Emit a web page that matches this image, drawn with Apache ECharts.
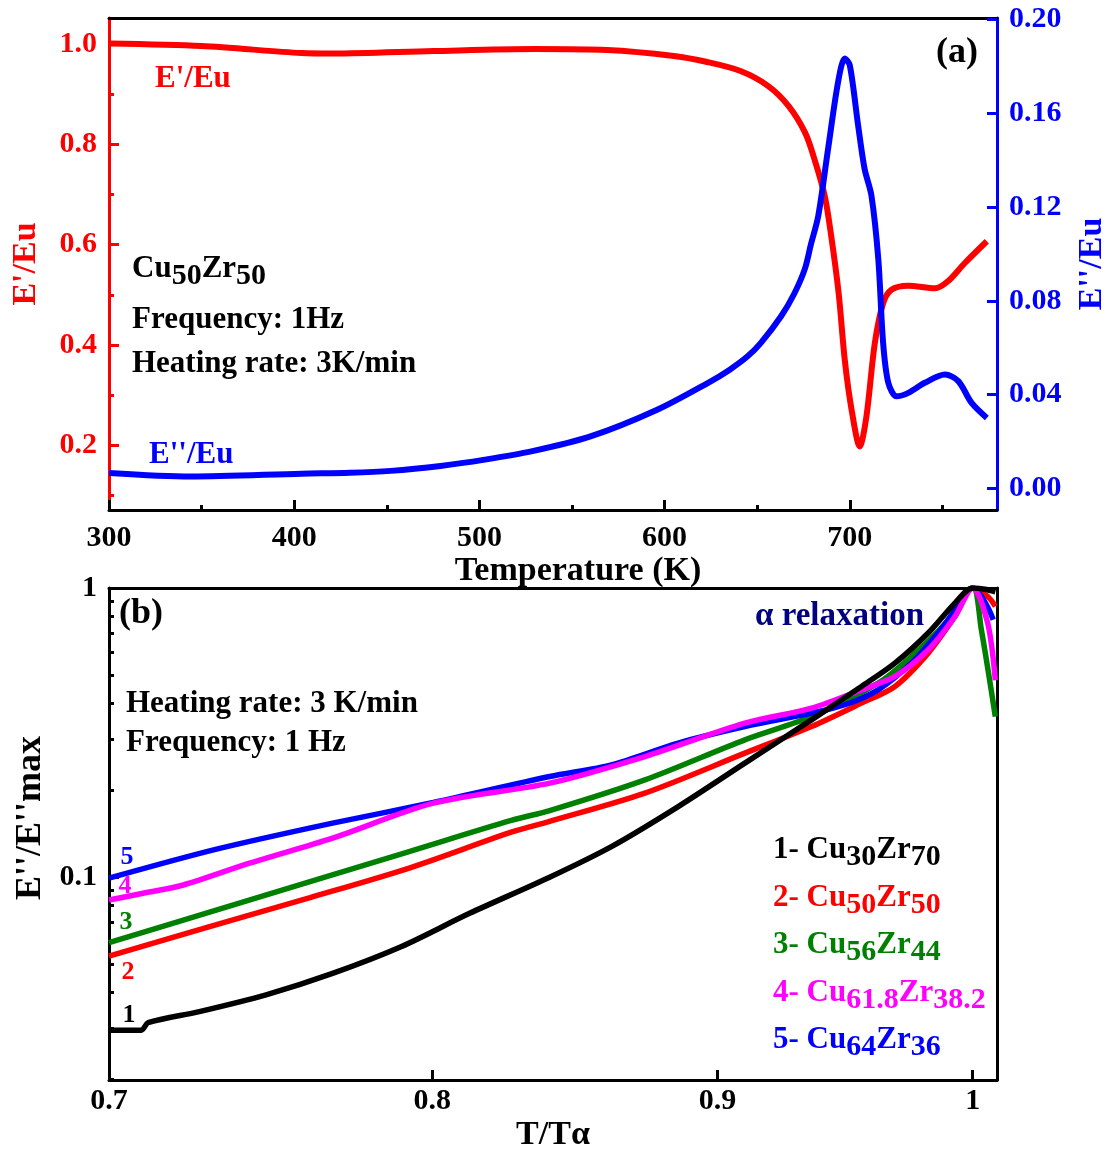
<!DOCTYPE html>
<html>
<head>
<meta charset="utf-8">
<title>CuZr DMA</title>
<script src="https://cdn.jsdelivr.net/npm/echarts@6.0.0/dist/echarts.min.js"></script>
<style>
  html, body { margin: 0; padding: 0; background: #fff; }
  #chart { width: 1110px; height: 1150px; }
</style>
</head>
<body>
<div id="chart"></div>
<script>
// ---- panel (a): Cu50Zr50, 1 Hz, 3 K/min ----
const tempStorage = [300, 350, 404, 421, 475, 530, 569, 605, 623, 641, 656, 667, 676, 681, 686.5, 690, 694, 697.3, 701, 705.4, 709, 713.5, 718, 722.5, 731.6, 746, 753, 762, 774];
const storageMod = [1.002, 0.997, 0.983, 0.982, 0.987, 0.991, 0.989, 0.977, 0.965, 0.947, 0.917, 0.877, 0.823, 0.77, 0.697, 0.617, 0.503, 0.37, 0.27, 0.197, 0.257, 0.403, 0.483, 0.51, 0.518, 0.513, 0.527, 0.563, 0.607];
const tempLoss = [300, 344, 404, 430, 452, 479, 503, 528, 560, 596, 623.5, 635, 645, 652, 663, 670, 675.7, 679, 683, 688.3, 693.7, 697.3, 700, 704.5, 708, 711.7, 715.4, 718, 720.8, 725.3, 731.6, 740.5, 751.4, 758.6, 765.8, 774];
const lossMod = [0.0065, 0.005, 0.0062, 0.0066, 0.0074, 0.0095, 0.0122, 0.0157, 0.0221, 0.0335, 0.045, 0.0505, 0.0564, 0.062, 0.0735, 0.083, 0.0935, 0.104, 0.1163, 0.1449, 0.1734, 0.1834, 0.1806, 0.1549, 0.1363, 0.1249, 0.0978, 0.0621, 0.045, 0.0392, 0.0407, 0.045, 0.0485, 0.0457, 0.0364, 0.03];

// ---- panel (b): E''/E''max vs T/Talpha ----
const ratio1 = [0.7, 0.7094, 0.7114, 0.7266, 0.7469, 0.7677, 0.7897, 0.8124, 0.8397, 0.8614, 0.8855, 0.9102, 0.9356, 0.9551, 0.9684, 0.9818, 0.9927, 1.0, 1.005, 1.0094];
const loss1 = [0.0296, 0.0296, 0.0314, 0.0343, 0.0392, 0.0465, 0.0575, 0.075, 0.1, 0.1276, 0.1755, 0.248, 0.35, 0.4566, 0.55, 0.699, 0.887, 1.0, 0.99, 0.97];
const ratio2 = [0.7, 0.7297, 0.7606, 0.7929, 0.8265, 0.8397, 0.8734, 0.9102, 0.9356, 0.9551, 0.9684, 0.9818, 0.9927, 1.0, 1.0062, 1.0094];
const loss2 = [0.0534, 0.0675, 0.085, 0.108, 0.1431, 0.156, 0.1953, 0.2685, 0.332, 0.40, 0.4566, 0.5956, 0.797, 1.0, 0.935, 0.864];
const ratio3 = [0.7, 0.7297, 0.7606, 0.7929, 0.8265, 0.8397, 0.8734, 0.9102, 0.9356, 0.9617, 0.975, 0.9889, 1.0, 1.0036, 1.0094];
const loss3 = [0.0594, 0.0758, 0.0966, 0.1232, 0.1572, 0.17, 0.2171, 0.2986, 0.3594, 0.469, 0.58, 0.757, 1.0, 0.717, 0.359];
const ratio4 = [0.7, 0.7099, 0.7218, 0.7418, 0.7677, 0.8003, 0.8397, 0.8734, 0.9102, 0.9356, 0.9551, 0.9684, 0.9818, 0.9927, 1.0, 1.0062, 1.0094];
const loss4 = [0.0834, 0.088, 0.094, 0.1118, 0.1365, 0.1803, 0.2115, 0.2614, 0.341, 0.3844, 0.4446, 0.4944, 0.6115, 0.797, 1.0, 0.757, 0.48];
const ratio5 = [0.7, 0.7318, 0.7677, 0.8003, 0.8397, 0.8614, 0.8855, 0.9102, 0.9356, 0.9486, 0.9617, 0.975, 0.9858, 0.994, 1.0, 1.0036, 1.0071, 1.0085];
const loss5 = [0.0992, 0.125, 0.1538, 0.1812, 0.2229, 0.2446, 0.2909, 0.332, 0.3694, 0.3947, 0.4446, 0.55, 0.699, 0.864, 1.0, 0.935, 0.83, 0.777];

// tick values
const tempTicks = [300, 400, 500, 600, 700];
const tempMinor = [350, 450, 550, 650, 750];
const storageTicks = [0.2, 0.4, 0.6, 0.8, 1.0];
const storageMinor = [0.1, 0.3, 0.5, 0.7, 0.9];
const lossTicks = [0, 0.04, 0.08, 0.12, 0.16, 0.2];
const ratioTicks = [0.7, 0.8, 0.9, 1];
const normTicks = [0.1, 1];
const normMinor = [0.02, 0.03, 0.04, 0.05, 0.06, 0.07, 0.08, 0.09, 0.2, 0.3, 0.4, 0.5, 0.6, 0.7, 0.8, 0.9];

const serif = '"Liberation Serif", "Times New Roman", serif';
const pairs = (xs, ys) => xs.map((x, i) => [x, ys[i]]);
const num = v => String(parseFloat((+v).toFixed(3)));

function tickFont(color) {
  return { color: color, fontSize: 30, fontWeight: 'bold', fontFamily: serif };
}
function nameFont(color, size, padding) {
  return { color: color, fontSize: size || 34, fontWeight: 'bold', fontFamily: serif, padding: padding || 0 };
}
// axis that only draws a line or extra ticks
function bareAxis(extra) {
  return Object.assign({
    axisLine: { show: false, onZero: false },
    axisTick: { show: false },
    axisLabel: { show: false },
    splitLine: { show: false }
  }, extra);
}

let myChart = echarts.init(document.getElementById('chart'));
myChart.setOption({
  animation: false,
  backgroundColor: '#fff',
  grid: [
    { left: 109, top: 18, width: 888, height: 492, outerBoundsMode: 'none' },
    { left: 109, top: 588, width: 888, height: 492, outerBoundsMode: 'none' }
  ],
  xAxis: [
    {
      type: 'value', gridIndex: 0, position: 'bottom', min: 300, max: 779.5,
      axisLine: { onZero: false, lineStyle: { color: '#000', width: 3 } },
      axisTick: { inside: true, length: 10, lineStyle: { color: '#000', width: 3 }, customValues: tempTicks },
      axisLabel: Object.assign({ customValues: tempTicks, margin: 13 }, tickFont('#000')),
      splitLine: { show: false },
      name: 'Temperature (K)', nameLocation: 'middle', nameGap: 43,
      nameTextStyle: nameFont('#000', 34, [0, 0, 0, 50])
    },
    bareAxis({
      type: 'value', gridIndex: 0, position: 'bottom', min: 300, max: 779.5,
      axisTick: { show: true, inside: true, length: 5, lineStyle: { color: '#000', width: 3 }, customValues: tempMinor }
    }),
    bareAxis({
      type: 'value', gridIndex: 0, position: 'top', min: 300, max: 779.5,
      axisLine: { show: true, onZero: false, lineStyle: { color: '#000', width: 3 } }
    }),
    {
      type: 'log', logBase: 10, gridIndex: 1, position: 'bottom', min: 0.7, max: 1.0101,
      axisLine: { onZero: false, lineStyle: { color: '#000', width: 3 } },
      axisTick: { inside: true, length: 10, lineStyle: { color: '#000', width: 3 }, customValues: [0.8, 0.9, 1] },
      axisLabel: Object.assign({ customValues: ratioTicks, margin: 6, formatter: num }, tickFont('#000')),
      splitLine: { show: false },
      name: 'T/Tα', nameLocation: 'middle', nameGap: 38, nameTextStyle: nameFont('#000')
    },
    bareAxis({
      type: 'log', logBase: 10, gridIndex: 1, position: 'top', min: 0.7, max: 1.0101,
      axisLine: { show: true, onZero: false, lineStyle: { color: '#000', width: 3 } }
    })
  ],
  yAxis: [
    {
      type: 'value', gridIndex: 0, position: 'left', min: 0.07, max: 1.053,
      axisLine: { onZero: false, lineStyle: { color: '#ff0000', width: 3 } },
      axisTick: { inside: true, length: 10, lineStyle: { color: '#ff0000', width: 3 }, customValues: storageTicks },
      axisLabel: Object.assign({ customValues: storageTicks, margin: 12, formatter: v => (+v).toFixed(1) }, tickFont('#ff0000')),
      splitLine: { show: false },
      name: "E'/Eu", nameLocation: 'middle', nameGap: 66, nameTextStyle: nameFont('#ff0000')
    },
    {
      type: 'value', gridIndex: 0, position: 'right', min: -0.0093, max: 0.2007,
      axisLine: { onZero: false, lineStyle: { color: '#0000ff', width: 3 } },
      axisTick: { inside: true, length: 10, lineStyle: { color: '#0000ff', width: 3 }, customValues: lossTicks },
      axisLabel: Object.assign({ customValues: lossTicks, margin: 12, formatter: v => (+v).toFixed(2) }, tickFont('#0000ff')),
      splitLine: { show: false },
      name: "E''/Eu", nameLocation: 'middle', nameGap: 78, nameTextStyle: nameFont('#0000ff')
    },
    bareAxis({
      type: 'value', gridIndex: 0, position: 'left', min: 0.07, max: 1.053,
      axisTick: { show: true, inside: true, length: 5, lineStyle: { color: '#ff0000', width: 3 }, customValues: storageMinor }
    }),
    {
      type: 'log', logBase: 10, gridIndex: 1, position: 'left', min: 0.0199, max: 1,
      axisLine: { onZero: false, lineStyle: { color: '#000', width: 3 } },
      axisTick: { inside: true, length: 10, lineStyle: { color: '#000', width: 3 }, customValues: [0.1] },
      axisLabel: Object.assign({ customValues: normTicks, margin: 12, formatter: num }, tickFont('#000')),
      splitLine: { show: false },
      name: "E''/E''max", nameLocation: 'middle', nameGap: 52,
      nameTextStyle: nameFont('#000', 36, [0, 0, 0, 32])
    },
    bareAxis({
      type: 'log', logBase: 10, gridIndex: 1, position: 'left', min: 0.0199, max: 1,
      axisTick: { show: true, inside: true, length: 5, lineStyle: { color: '#000', width: 3 }, customValues: normMinor }
    }),
    bareAxis({
      type: 'log', logBase: 10, gridIndex: 1, position: 'right', min: 0.0199, max: 1,
      axisLine: { show: true, onZero: false, lineStyle: { color: '#000', width: 3 } }
    })
  ],
  series: [
    { type: 'line', xAxisIndex: 0, yAxisIndex: 0, data: pairs(tempStorage, storageMod), showSymbol: false, smooth: 0.3, lineStyle: { color: '#ff0000', width: 6 } },
    { type: 'line', xAxisIndex: 0, yAxisIndex: 1, data: pairs(tempLoss, lossMod), showSymbol: false, smooth: 0.3, lineStyle: { color: '#0000ff', width: 6 } },
    { type: 'line', xAxisIndex: 3, yAxisIndex: 3, data: pairs(ratio2, loss2), showSymbol: false, smooth: 0.3, lineStyle: { color: '#ff0000', width: 5.5 } },
    { type: 'line', xAxisIndex: 3, yAxisIndex: 3, data: pairs(ratio3, loss3), showSymbol: false, smooth: 0.3, lineStyle: { color: '#008000', width: 5.5 } },
    { type: 'line', xAxisIndex: 3, yAxisIndex: 3, data: pairs(ratio5, loss5), showSymbol: false, smooth: 0.3, lineStyle: { color: '#0000ff', width: 5.5 } },
    { type: 'line', xAxisIndex: 3, yAxisIndex: 3, data: pairs(ratio4, loss4), showSymbol: false, smooth: 0.3, lineStyle: { color: '#ff00ff', width: 5.5 } },
    { type: 'line', xAxisIndex: 3, yAxisIndex: 3, data: pairs(ratio1, loss1), showSymbol: false, smooth: 0.3, lineStyle: { color: '#000000', width: 5.5 } }
  ],
  graphic: [
    txt(957, 53, '(a)', '#000', 36, 'center'),
    txt(155, 79, "E'/Eu", '#ff0000', 31),
    txt(149, 455, "E''/Eu", '#0000ff', 31),
    formula(132, 269, 'Cu', '50', 'Zr', '50', '#000'),
    txt(132, 320, 'Frequency: 1Hz', '#000', 31),
    txt(132, 364, 'Heating rate: 3K/min', '#000', 31),

    txt(141, 614, '(b)', '#000', 36, 'center'),
    txt(755, 616, 'α relaxation', '#000080', 33),
    txt(126, 704, 'Heating rate: 3 K/min', '#000', 31),
    txt(126, 743, 'Frequency: 1 Hz', '#000', 31),
    txt(127, 857, '5', '#0000ff', 26, 'center'),
    txt(125, 886, '4', '#ff00ff', 26, 'center'),
    txt(126, 922, '3', '#008000', 26, 'center'),
    txt(128, 972, '2', '#ff0000', 26, 'center'),
    txt(129, 1015, '1', '#000', 26, 'center'),
    formula(773, 850, '1- Cu', '30', 'Zr', '70', '#000'),
    formula(773, 898, '2- Cu', '50', 'Zr', '50', '#ff0000'),
    formula(773, 945, '3- Cu', '56', 'Zr', '44', '#008000'),
    formula(773, 993, '4- Cu', '61.8', 'Zr', '38.2', '#ff00ff'),
    formula(773, 1040, '5- Cu', '64', 'Zr', '36', '#0000ff')
  ]
});

function txt(x, y, text, color, size, align) {
  return {
    type: 'text', x: x, y: y, z: 100,
    style: {
      text: text, fill: color, font: 'bold ' + size + 'px ' + serif,
      align: align || 'left', textAlign: align || 'left',
      verticalAlign: 'middle', textVerticalAlign: 'middle'
    }
  };
}
// chemical formula with lowered subscripts; y is the centre of the main letters
function formula(x, y, a, sa, b, sb, color) {
  const main = { fontSize: 31, fontWeight: 'bold', fontFamily: serif, fill: color, color: color, lineHeight: 32, verticalAlign: 'top' };
  const sub = { fontSize: 30, fontWeight: 'bold', fontFamily: serif, fill: color, color: color, lineHeight: 38, verticalAlign: 'bottom' };
  return {
    type: 'text', x: x, y: y - 16, z: 100,
    style: {
      text: '{m|' + a + '}{s|' + sa + '}{m|' + b + '}{s|' + sb + '}',
      rich: { m: main, s: sub },
      fill: color, font: 'bold 31px ' + serif,
      align: 'left', textAlign: 'left', verticalAlign: 'top', textVerticalAlign: 'top'
    }
  };
}
</script>
</body>
</html>
